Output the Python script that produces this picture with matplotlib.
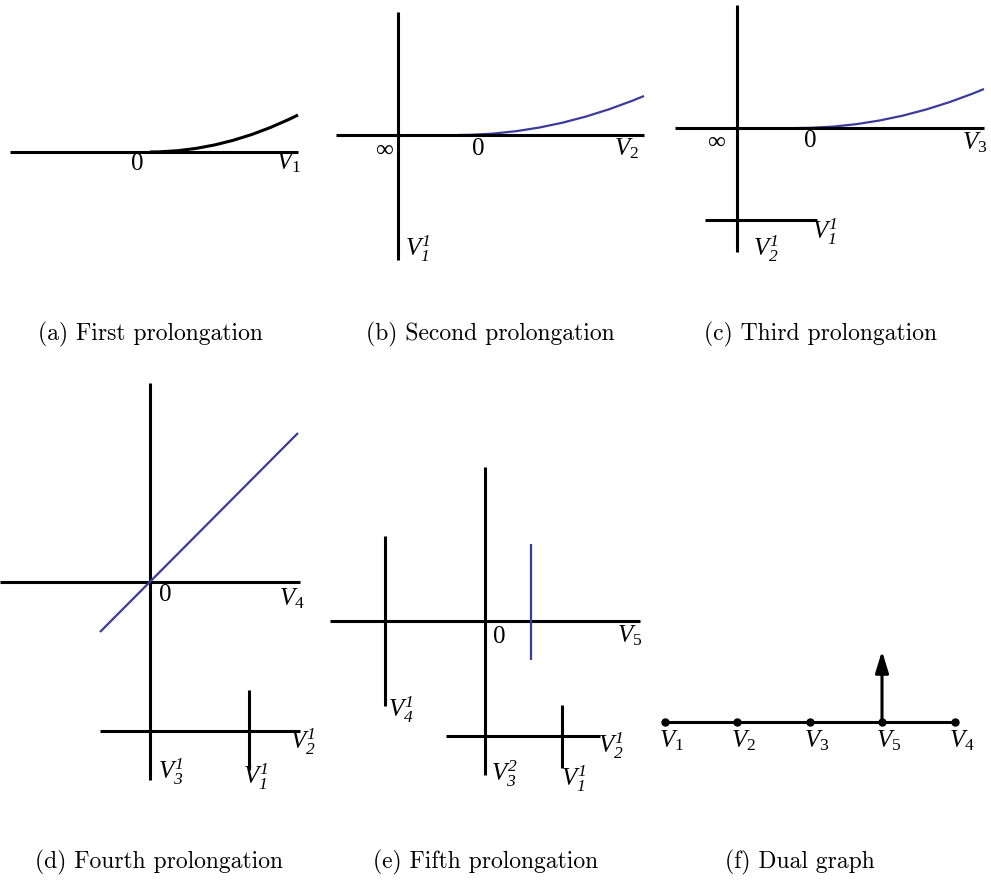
import matplotlib.pyplot as plt
from matplotlib.path import Path
from matplotlib.patches import PathPatch

plt.rcParams['mathtext.fontset'] = 'custom'
plt.rcParams['mathtext.rm'] = 'Liberation Serif'
plt.rcParams['mathtext.it'] = 'Liberation Serif:italic'
plt.rcParams['mathtext.sf'] = 'Liberation Serif:italic'

BLACK = "black"
BLUE = "#3b3b9c"

# black segments (x0, y0, x1, y1) in picture pixels
black_segs = [
    # (a)
    (10, 152, 298, 152),
    # (b)
    (398, 12, 398, 260), (336, 135, 644, 135),
    # (c)
    (737, 5, 737, 252), (675, 128, 984, 128), (705, 220, 817, 220),
    # (d)
    (0, 582, 300, 582), (150, 383, 150, 780), (100, 731, 300, 731), (249, 690, 249, 770),
    # (e)
    (330, 621, 640, 621), (485, 467, 485, 775), (385, 536, 385, 706),
    (446, 736, 600, 736), (562, 705, 562, 768),
    # (f)
    (665, 722, 955, 722),
]
blue_segs = [
    (100, 632, 298, 433),   # (d) diagonal
    (531, 544, 531, 660),   # (e) vertical
]
# parabolic curves: start (tangent horizontal) -> end
curves = [
    ((150, 152), (298, 115), BLACK, 2.2),
    ((458, 135), (644, 96), BLUE, 1.6),
    ((798, 128), (984, 89), BLUE, 1.6),
]

# labels (x, y, text)
labels = [
    (137, 163, r"$0$"), (289, 163, r"$V_1$"),
    (384, 149, r"$\infty$"), (478, 148, r"$0$"), (627, 149, r"$V_2$"),
    (418, 249, r"$V_{\mathsf{1}}^{\mathsf{1}}$"),
    (716, 141, r"$\infty$"), (810, 140, r"$0$"), (975, 143, r"$V_3$"),
    (825, 232, r"$V_{\mathsf{1}}^{\mathsf{1}}$"), (766, 249, r"$V_{\mathsf{2}}^{\mathsf{1}}$"),
    (165, 594, r"$0$"), (292, 599, r"$V_4$"),
    (303, 742, r"$V_{\mathsf{2}}^{\mathsf{1}}$"), (171, 772, r"$V_{\mathsf{3}}^{\mathsf{1}}$"),
    (256, 777, r"$V_{\mathsf{1}}^{\mathsf{1}}$"),
    (499, 636, r"$0$"), (630, 636, r"$V_5$"),
    (401, 710, r"$V_{\mathsf{4}}^{\mathsf{1}}$"), (611, 746, r"$V_{\mathsf{2}}^{\mathsf{1}}$"),
    (505, 774, r"$V_{\mathsf{3}}^{\mathsf{2}}$"), (574, 779, r"$V_{\mathsf{1}}^{\mathsf{1}}$"),
]

# dual graph
node_x = [665, 737, 810, 882, 955]
node_y = 722
node_names = ["$V_1$", "$V_2$", "$V_3$", "$V_5$", "$V_4$"]
arrow_top = 651

captions = ["(a) First prolongation", "(b) Second prolongation", "(c) Third prolongation",
            "(d) Fourth prolongation", "(e) Fifth prolongation", "(f) Dual graph"]
caption_x = [150, 490, 821, 159, 486, 800]
caption_y = [334, 334, 334, 862, 862, 862]

fig = plt.figure(figsize=(9.91, 8.82), dpi=100)
ax = fig.add_axes([0, 0, 1, 1])
ax.set_xlim(0, 991)
ax.set_ylim(882, 0)
ax.axis("off")

for x0, y0, x1, y1 in black_segs:
    ax.plot([x0, x1], [y0, y1], color=BLACK, lw=2.2, solid_capstyle="butt")
for x0, y0, x1, y1 in blue_segs:
    ax.plot([x0, x1], [y0, y1], color=BLUE, lw=1.6, solid_capstyle="butt")

for (x0, y0), (x1, y1), c, lw in curves:
    path = Path([(x0, y0), ((x0 + x1) / 2, y0), (x1, y1)],
                [Path.MOVETO, Path.CURVE3, Path.CURVE3])
    ax.add_patch(PathPatch(path, fill=False, edgecolor=c, lw=lw))

for x, y, t in labels:
    ax.text(x, y, t, fontsize=18, ha="center", va="center")

ax.plot(node_x, [node_y] * len(node_x), "o", color=BLACK, ms=5)
for x, t in zip(node_x, node_names):
    ax.text(x + 7, node_y + 19, t, fontsize=18, ha="center", va="center")
ax.annotate("", xy=(node_x[3], arrow_top), xytext=(node_x[3], node_y),
            arrowprops=dict(arrowstyle="-|>,head_length=1.3,head_width=0.4",
                            color=BLACK, lw=2.2, shrinkA=0, shrinkB=0))

for x, y, t in zip(caption_x, caption_y, captions):
    ax.text(x, y, t, fontsize=17, family="cmr10", ha="center", va="center")

fig.savefig("out.png", dpi=100)
